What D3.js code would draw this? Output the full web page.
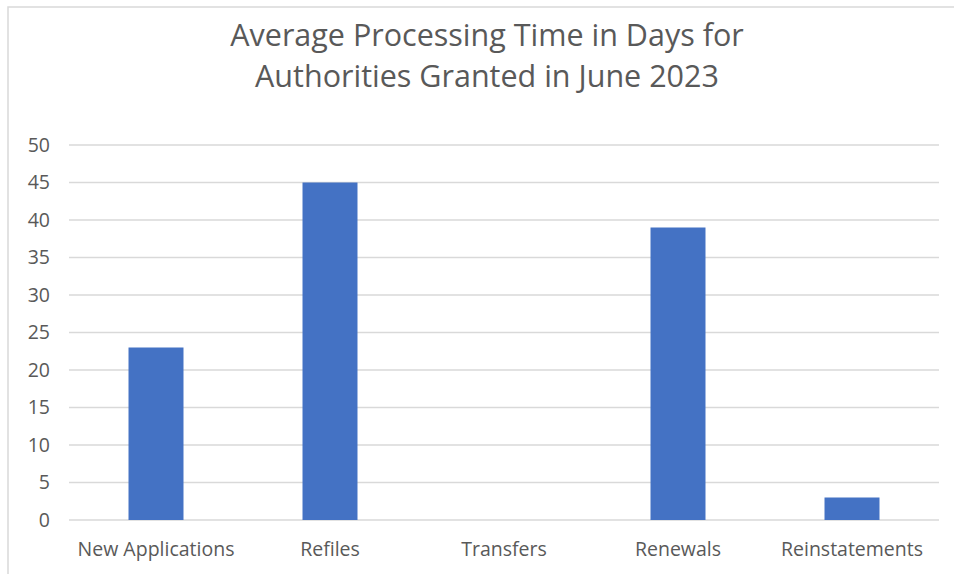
<!DOCTYPE html>
<html>
<head>
<meta charset="utf-8">
<script src="https://cdn.jsdelivr.net/npm/d3@7"></script>
<style>
  body { margin: 0; background: #fff; }
  text { font-family: "Open Sans", "Noto Sans", sans-serif; fill: #595959; }
</style>
</head>
<body>
<svg id="chart" width="954" height="574"></svg>
<script>
// data
const categories = ["New Applications", "Refiles", "Transfers", "Renewals", "Reinstatements"];
const days = [23, 45, 0, 39, 3];
const yTicks = [0, 5, 10, 15, 20, 25, 30, 35, 40, 45, 50];
const titleLines = ["Average Processing Time in Days for", "Authorities Granted in June 2023"];

const svg = d3.select("#chart");
const width = +svg.attr("width");
const height = +svg.attr("height");
const margin = {top: 145, right: 15, bottom: 54, left: 69};

// outer chart frame (only top and left edges are visible in the picture)
svg.append("path")
  .attr("d", "M8," + height + "V7H" + width)
  .attr("fill", "none")
  .attr("stroke", "#d9d9d9")
  .attr("stroke-width", 1.5);

const x = d3.scaleBand()
  .domain(categories)
  .range([margin.left, width - margin.right])
  .paddingInner(0.684)
  .paddingOuter(0.342);

const y = d3.scaleLinear()
  .domain([0, 50])
  .range([height - margin.bottom, margin.top]);

// gridlines
svg.append("g")
  .selectAll("line")
  .data(yTicks)
  .enter().append("line")
  .attr("x1", margin.left)
  .attr("x2", width - margin.right)
  .attr("y1", d => y(d))
  .attr("y2", d => y(d))
  .attr("stroke", "#d9d9d9")
  .attr("stroke-width", 1.5);

// y axis labels
const yAxis = d3.axisLeft(y).tickValues(yTicks).tickSize(0).tickPadding(19);
svg.append("g")
  .attr("transform", "translate(" + margin.left + ",0)")
  .call(yAxis)
  .call(g => g.select(".domain").remove())
  .selectAll("text")
  .attr("font-size", 19.5)
  .attr("fill", "#595959");

// bars
svg.append("g")
  .selectAll("rect")
  .data(categories)
  .enter().append("rect")
  .attr("x", d => x(d))
  .attr("width", x.bandwidth())
  .attr("y", (d, i) => y(days[i]))
  .attr("height", (d, i) => y(0) - y(days[i]))
  .attr("fill", "#4472c4");

// x axis labels
const xAxis = d3.axisBottom(x).tickSize(0).tickPadding(22);
svg.append("g")
  .attr("transform", "translate(0," + y(0) + ")")
  .call(xAxis)
  .call(g => g.select(".domain").remove())
  .selectAll("text")
  .attr("font-size", 19.5)
  .attr("fill", "#595959");

// title
svg.append("g")
  .selectAll("text")
  .data(titleLines)
  .enter().append("text")
  .attr("x", 487)
  .attr("y", (d, i) => 46 + i * 41)
  .attr("text-anchor", "middle")
  .attr("font-size", 30.5)
  .text(d => d);
</script>
</body>
</html>
